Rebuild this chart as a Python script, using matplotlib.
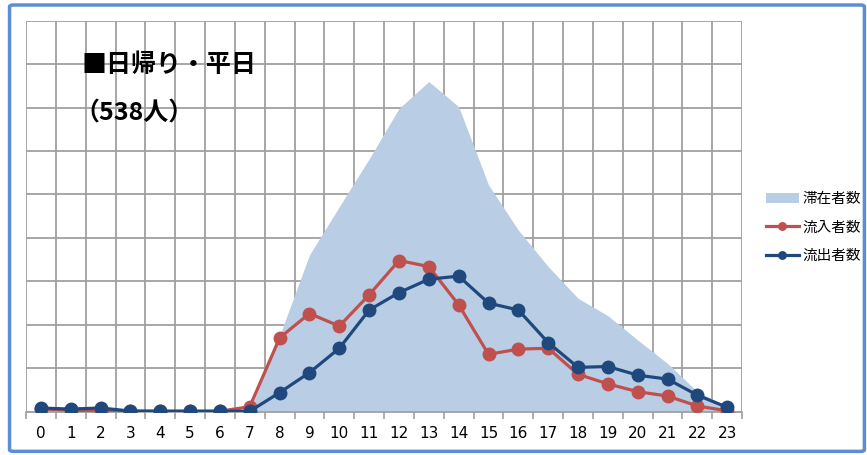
import matplotlib.pyplot as plt
import numpy as np
from matplotlib.patches import FancyBboxPatch

plt.rcParams['font.family'] = ['Noto Sans CJK JP', 'DejaVu Sans']

# hours of the day
hours = list(range(24))
# stock (滞在者数), inflow (流入者数), outflow (流出者数)
stay = [1.0, 0.8, 0.9, 0.4, 0.2, 0.2, 0.2, 0.3, 17.5, 36.1, 47.2, 58.2,
        69.8, 76.0, 70.2, 52.2, 41.8, 33.4, 26.1, 22.1, 16.5, 11.1, 4.6, 1.2]
inflow = [0.6, 0.4, 0.1, 0.1, 0.1, 0.1, 0.1, 1.15, 17.0, 22.6, 19.7, 26.9,
          34.8, 33.4, 24.6, 13.2, 14.4, 14.6, 8.6, 6.4, 4.6, 3.6, 1.3, 0.2]
outflow = [0.85, 0.6, 0.85, 0.15, 0.1, 0.1, 0.1, 0.1, 4.4, 9.0, 14.6, 23.4,
           27.4, 30.5, 31.2, 25.0, 23.4, 15.9, 10.2, 10.4, 8.4, 7.5, 3.8, 1.0]
series_names = ['滞在者数', '流入者数', '流出者数']

fig = plt.figure(figsize=(8.67, 4.55), dpi=100)
ax = fig.add_axes([0.030, 0.0952, 0.826, 0.8593])

# outer blue frame
fig.patches.append(FancyBboxPatch((0.011, 0.008), 0.986, 0.981, boxstyle='round,pad=0,rounding_size=0.004',
                                  transform=fig.transFigure, fill=False, edgecolor='#5B8ED6', linewidth=2.5))

x = np.array(hours)
ax.fill_between(x, stay, color='#B9CDE5', linewidth=0, zorder=2, label=series_names[0])
ax.plot(x, inflow, color='#C0504D', lw=2.3, marker='o', ms=9, zorder=3, label=series_names[1])
ax.plot(x, outflow, color='#1F497D', lw=2.3, marker='o', ms=9, zorder=4, label=series_names[2])

ax.set_xlim(-0.5, 23.5)
ax.set_ylim(0, 90)
ax.set_xticks(x)
ax.set_xticklabels([str(h) for h in hours], fontsize=11, family='DejaVu Sans')
ax.set_xticks(np.arange(-0.5, 24, 1), minor=True)
ax.set_yticks(np.arange(0, 91, 10))
ax.set_yticklabels([])
ax.tick_params(axis='x', which='major', length=0, pad=10)
ax.tick_params(axis='x', which='minor', length=5, color='#A0A0A0', width=1.2)
ax.tick_params(axis='y', length=0)
ax.grid(True, which='minor', axis='x', color='#A0A0A0', lw=1.3, zorder=0)
ax.grid(True, which='major', axis='y', color='#A0A0A0', lw=1.3, zorder=0)
ax.set_axisbelow(True)
for s in ['top', 'right', 'left']:
    ax.spines[s].set_visible(False)
ax.spines['bottom'].set_color('#A0A0A0')
ax.spines['bottom'].set_linewidth(1.3)

ax.text(0.078, 0.887, '■日帰り・平日', transform=ax.transAxes, fontsize=18, fontweight='bold', va='center')
ax.text(0.068, 0.762, '（538人）', transform=ax.transAxes, fontsize=18, fontweight='bold', va='center')

fig.legend(loc='center left', bbox_to_anchor=(0.868, 0.50), frameon=False, fontsize=10.5,
           handlelength=2.3, labelspacing=1.0, handletextpad=0.2, markerscale=0.6)

fig.savefig('out.png', dpi=100)
